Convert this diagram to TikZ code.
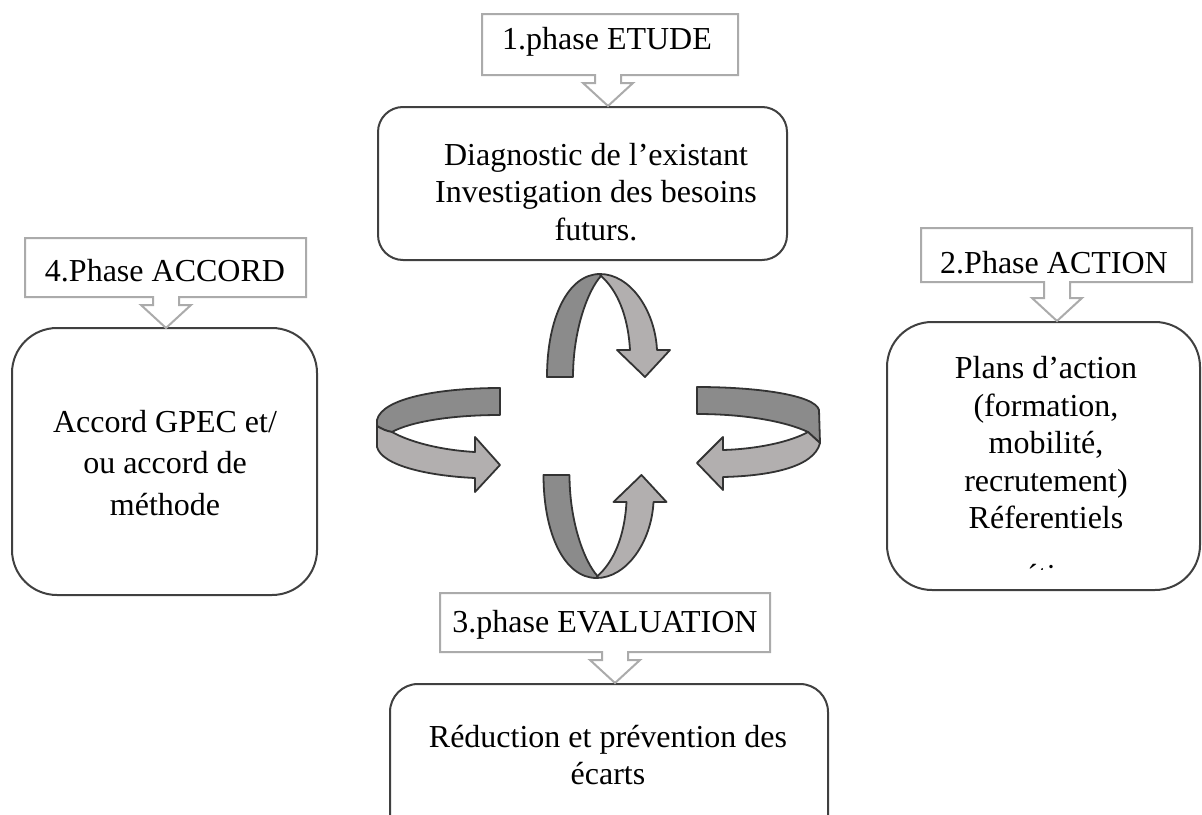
\documentclass[tikz,border=0pt]{standalone}
\usepackage{fontspec}
\setmainfont{Liberation Serif}
\begin{document}
\begin{tikzpicture}[x=1pt,y=-1pt,
  calloutline/.style={draw=callgray,line width=2pt,fill=white,line join=miter},
  phasebox/.style={draw=boxgray,line width=2pt,fill=white,rectangle,inner sep=0pt},
  lbl/.style={font=\fontsize{32}{37.5}\selectfont,inner sep=0pt,anchor=base},
  body/.style={font=\fontsize{32}{37.5}\selectfont,align=center,inner sep=0pt,anchor=north},
  backband/.style={fill=bandDark,draw=bandLine,line width=1.8pt,line join=round},
  frontband/.style={fill=bandLight,draw=bandLine,line width=1.8pt,line join=round}]
\definecolor{callgray}{HTML}{ABABAB}
\definecolor{boxgray}{HTML}{404040}
\definecolor{bandDark}{HTML}{8B8B8B}
\definecolor{bandLight}{HTML}{B2AFAF}
\definecolor{bandLine}{HTML}{333333}
\useasboundingbox (0,0) rectangle (1202,814);
\clip (0,0) rectangle (1202,814);

% ---------- rounded content boxes ----------
\node[phasebox,rounded corners=25pt,minimum width=409pt,minimum height=153pt] (b1) at (582.5,183.5) {};
\node[phasebox,rounded corners=45pt,minimum width=313pt,minimum height=268pt] (b2) at (1043.5,456) {};
\node[phasebox,rounded corners=28pt,minimum width=438pt,minimum height=161pt] (b3) at (609,764.5) {};
\node[phasebox,rounded corners=45pt,minimum width=305pt,minimum height=267pt] (b4) at (164.5,461.5) {};

% ---------- phase callouts (box with a down arrow) ----------
\draw[calloutline] (482,14) -- (738,14) -- (738,75) -- (621,75) -- (621,83) -- (633,83)
  -- (608,106) -- (583,83) -- (595,83) -- (595,75) -- (482,75) -- cycle;
\draw[calloutline] (921,228) -- (1192,228) -- (1192,282) -- (1070,282) -- (1070,298) -- (1082,298)
  -- (1057,321) -- (1032,298) -- (1044,298) -- (1044,282) -- (921,282) -- cycle;
\draw[calloutline] (440,593) -- (770,593) -- (770,652) -- (628,652) -- (628,660) -- (640,660)
  -- (615,683) -- (590,660) -- (602,660) -- (602,652) -- (440,652) -- cycle;
\draw[calloutline] (25,238) -- (306,238) -- (306,297) -- (179,297) -- (179,305) -- (191,305)
  -- (166,328) -- (141,305) -- (153,305) -- (153,297) -- (25,297) -- cycle;

\node[lbl] (c1) at (607,49.5) {1.phase ETUDE};
\node[lbl] (c2) at (1054,273.5) {2.Phase ACTION};
\node[lbl] (c3) at (605,632) {3.phase EVALUATION};
\node[lbl] (c4) at (165,281.5) {4.Phase ACCORD};

% ---------- box texts ----------
\node[body] (t1) at (596,143) {Diagnostic de l’existant\\Investigation des besoins\\futurs.};
\begin{scope}
  \clip (887,322) rectangle (1200,569);
  \node[body] (t2) at (1046,356.5) {Plans d’action\\(formation,\\mobilité,\\recrutement)\\Réferentiels\\[20pt]métiers};
\end{scope}
\node[body] (t3) at (608,725) {Réduction et prévention des\\écarts};
\node[body,font=\fontsize{32}{41.5}\selectfont] (t4) at (165,410) {Accord GPEC et/\\ou accord de\\méthode};

% ---------- cycle arrows (twisted ribbons) ----------
% top
\draw[backband] (547,377) .. controls (547,318) and (568,274) .. (600,274)
  -- (601,276) .. controls (588,290) and (573,330) .. (573,377) -- cycle;
\draw[frontband] (600,274) .. controls (630,274) and (655,310) .. (657,350)
  -- (670,350) -- (645,377) -- (617,350) -- (630,350)
  .. controls (628,315) and (617,290) .. (601,276) -- cycle;
% bottom
\draw[backband] (543.5,475) .. controls (543.5,534) and (564.5,578) .. (596.5,578)
  -- (597.5,576) .. controls (584.5,562) and (569.5,522) .. (569.5,475) -- cycle;
\draw[frontband] (596.5,578) .. controls (626.5,578) and (651.5,542) .. (653.5,502)
  -- (666.5,502) -- (641.5,475) -- (613.5,502) -- (626.5,502)
  .. controls (624.5,537) and (613.5,562) .. (597.5,576) -- cycle;
% left
\draw[backband] (500,388) .. controls (440,388) and (382,398) .. (377,420)
  -- (377,426) .. controls (382,429) and (386,431) .. (392,432)
  .. controls (410,422) and (450,415) .. (500,415) -- cycle;
\draw[frontband] (377,426) -- (377,447) .. controls (382,466) and (430,476) .. (475,478)
  -- (475,492) -- (500,465) -- (475,437) -- (475,452)
  .. controls (440,450) and (410,442) .. (392,432)
  .. controls (386,431) and (382,429) .. (377,426) -- cycle;
% right
\draw[backband] (697,387) .. controls (757,387) and (815,395) .. (819,410)
  -- (820,443) -- (808,432) .. controls (787,422) and (747,414) .. (697,414) -- cycle;
\draw[frontband] (808,432) -- (820,443) .. controls (814,468) and (767,476) .. (723,477)
  -- (723,490) -- (697,463) -- (723,437) -- (723,450)
  .. controls (757,449) and (790,442) .. (808,432) -- cycle;
\end{tikzpicture}
\end{document}
